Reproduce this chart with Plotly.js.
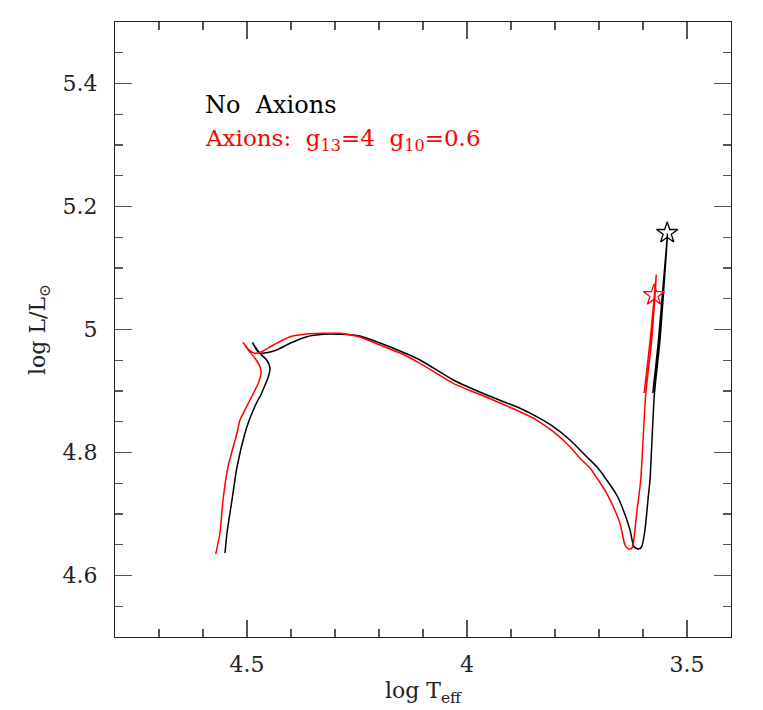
<!DOCTYPE html>
<html>
<head>
<meta charset="utf-8">
<script src="https://cdn.plot.ly/plotly-3.0.1.min.js"></script>
<style>
  body { margin: 0; background: #fff; }
  #hrd { width: 763px; height: 710px; }
</style>
</head>
<body>
<div id="hrd"></div>
<script>
// track without axions (black)
const noAxLogT = [4.550, 4.5455, 4.5341, 4.5227, 4.5045, 4.4948, 4.475, 4.4705, 4.4516, 4.4477,
    4.4552, 4.4705, 4.4818, 4.4870, 4.4795, 4.4705, 4.4552, 4.4325, 4.4023, 4.3643,
    4.3266, 4.2886, 4.2432, 4.1977, 4.1523, 4.1068, 4.0311, 3.9552, 3.8795, 3.8416,
    3.8039, 3.7659, 3.7280, 3.7023, 3.6825, 3.6598, 3.6448, 3.6295, 3.6205, 3.6107,
    3.6030, 3.5955, 3.5880, 3.5841, 3.5743, 3.5614, 3.5443, 3.5648, 3.5777];
const noAxLogL = [4.6366, 4.6691, 4.7228, 4.7764, 4.8317, 4.8528, 4.8854, 4.8907, 4.9233, 4.9369,
    4.9504, 4.9613, 4.9720, 4.9785, 4.9683, 4.9610, 4.9623, 4.9667, 4.9776, 4.9883,
    4.9922, 4.9922, 4.9894, 4.9780, 4.9650, 4.9504, 4.9179, 4.8935, 4.8719, 4.8582,
    4.8420, 4.8203, 4.7932, 4.7748, 4.7553, 4.7309, 4.7065, 4.6740, 4.6468, 4.6431,
    4.6468, 4.6740, 4.7281, 4.7553, 4.8935, 4.9829, 5.1553, 4.9829, 4.8967];

// track with axions g13=4, g10=0.6 (red)
const axLogT = [4.5711, 4.5614, 4.5545, 4.5432, 4.5227, 4.5159, 4.4932, 4.4743, 4.4682, 4.4705,
    4.4818, 4.4970, 4.5084, 4.4970, 4.4818, 4.4666, 4.4402, 4.4023, 4.3643, 4.3266,
    4.2886, 4.2432, 4.1977, 4.1523, 4.1068, 4.0311, 3.9552, 3.8795, 3.8416, 3.8039,
    3.7659, 3.7432, 3.7205, 3.7016, 3.6825, 3.6675, 3.6523, 3.6409, 3.6334, 3.6257,
    3.6220, 3.6143, 3.6052, 3.5939, 3.5802, 3.5698, 3.5836, 3.5973];
const axLogL = [4.6350, 4.6691, 4.7228, 4.7764, 4.8317, 4.8528, 4.8854, 4.9125, 4.9288, 4.9395,
    4.9532, 4.9667, 4.9785, 4.9678, 4.9613, 4.9639, 4.9748, 4.9883, 4.9927, 4.9938,
    4.9938, 4.9878, 4.9748, 4.9618, 4.9450, 4.9125, 4.8898, 4.8663, 4.8528, 4.8338,
    4.8094, 4.7906, 4.7748, 4.7553, 4.7337, 4.7119, 4.6849, 4.6496, 4.6431, 4.6442,
    4.6524, 4.7011, 4.7553, 4.8935, 4.9829, 5.0886, 4.9829, 4.8967];

// end points marked with stars
const starLogT = [3.545, 3.575];
const starLogL = [5.157, 5.056];
const starColors = ['#000000', '#ff0000'];

const fontFam = 'DejaVu Serif, Liberation Serif, serif';

const data = [
    {
        x: noAxLogT, y: noAxLogL,
        type: 'scatter', mode: 'lines',
        line: {color: '#000000', width: 1.5, shape: 'spline', smoothing: 0.6},
        hoverinfo: 'skip'
    },
    {
        x: axLogT, y: axLogL,
        type: 'scatter', mode: 'lines',
        line: {color: '#ff0000', width: 1.5, shape: 'spline', smoothing: 0.6},
        hoverinfo: 'skip'
    },
    {
        x: starLogT, y: starLogL,
        type: 'scatter', mode: 'markers',
        marker: {symbol: 'star-open', size: 16, color: starColors, line: {width: 1.3, color: starColors}},
        hoverinfo: 'skip'
    }
];

const axisBase = {
    showgrid: false,
    zeroline: false,
    showline: true,
    linecolor: '#222',
    linewidth: 1.2,
    mirror: 'ticks',
    ticks: 'inside',
    ticklen: 17,
    tickwidth: 1.2,
    tickcolor: '#555',
    tickfont: {family: fontFam, size: 22, color: '#222'}
};

const layout = {
    width: 763,
    height: 710,
    margin: {l: 115, r: 32, t: 22, b: 73},
    paper_bgcolor: '#fff',
    plot_bgcolor: '#fff',
    showlegend: false,
    xaxis: Object.assign({}, axisBase, {
        range: [4.8, 3.4],
        dtick: 0.5,
        tick0: 3.5,
        ticklabelstandoff: 7,
        minor: {ticks: 'inside', ticklen: 8, dtick: 0.1, tickwidth: 1.2, tickcolor: '#555'},
        title: {text: 'log T<sub>eff</sub>', font: {family: fontFam, size: 22, color: '#222'}, standoff: 7}
    }),
    yaxis: Object.assign({}, axisBase, {
        range: [4.5, 5.5],
        dtick: 0.2,
        tick0: 4.6,
        ticklabelstandoff: 12,
        minor: {ticks: 'inside', ticklen: 8, dtick: 0.05, tickwidth: 1.2, tickcolor: '#555'},
        title: {text: 'log L/L<sub>⊙</sub>', font: {family: fontFam, size: 22, color: '#222'}, standoff: 10}
    }),
    annotations: [
        {
            x: 4.6, y: 5.365, xref: 'x', yref: 'y',
            text: 'No  Axions', showarrow: false,
            xanchor: 'left', yanchor: 'middle',
            font: {family: fontFam, size: 24, color: '#000'}
        },
        {
            x: 4.6, y: 5.308, xref: 'x', yref: 'y',
            text: 'Axions:  g<sub>13</sub>=4  g<sub>10</sub>=0.6', showarrow: false,
            xanchor: 'left', yanchor: 'middle',
            font: {family: fontFam, size: 23, color: '#ff0000'}
        }
    ]
};

Plotly.newPlot('hrd', data, layout, {staticPlot: true});
</script>
</body>
</html>
